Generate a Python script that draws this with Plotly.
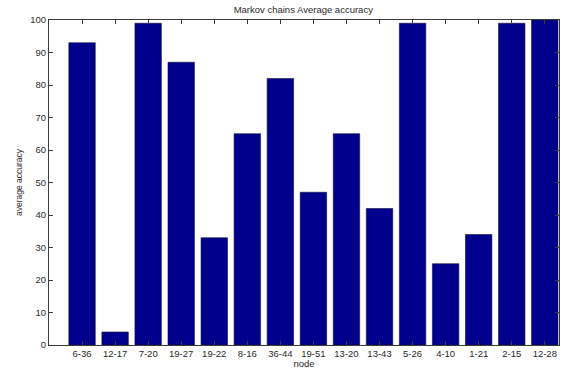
import plotly.graph_objects as go

nodes = ["6-36", "12-17", "7-20", "19-27", "19-22", "8-16", "36-44", "19-51",
         "13-20", "13-43", "5-26", "4-10", "1-21", "2-15", "12-28"]
accuracy = [93, 4, 99, 87, 33, 65, 82, 47, 65, 42, 99, 25, 34, 99, 100]
positions = list(range(1, len(nodes) + 1))
y_ticks = list(range(0, 101, 10))

font = dict(family="Liberation Sans, Arial, sans-serif", size=9.5, color="#2a2a2a")

fig = go.Figure(
    go.Bar(
        x=positions,
        y=accuracy,
        width=0.8,
        marker=dict(color="#00008c", line=dict(color="#10103a", width=0.6)),
    )
)

axis_common = dict(
    showline=True,
    linecolor="#3a3a3a",
    linewidth=1,
    mirror="ticks",
    ticks="inside",
    ticklen=4,
    tickcolor="#3a3a3a",
    showgrid=False,
    zeroline=False,
    tickfont=font,
    automargin=False,
)

fig.update_xaxes(
    range=[0, 15.43],
    tickmode="array",
    tickvals=positions,
    ticktext=nodes,
    title=dict(text="node", font=font, standoff=0),
    **axis_common,
)
fig.update_yaxes(
    range=[0, 100],
    tickmode="array",
    tickvals=y_ticks,
    title=dict(text="average accuracy", font=dict(family=font["family"], size=8.5, color="#2a2a2a"), standoff=6),
    **axis_common,
)

fig.update_layout(
    width=581,
    height=369,
    margin=dict(l=49, r=22, t=20, b=24),
    paper_bgcolor="white",
    plot_bgcolor="white",
    showlegend=False,
    title=dict(text="Markov chains Average accuracy", font=font, x=0.522, xanchor="center", y=0.973, yanchor="middle"),
)

fig.write_html("out.html")
